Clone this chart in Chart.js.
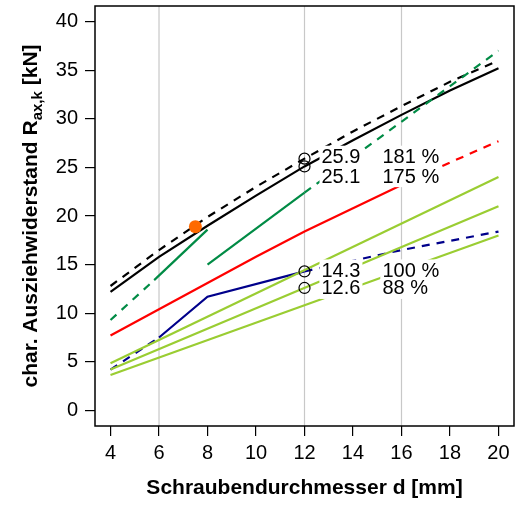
<!DOCTYPE html>
<html>
<head>
<meta charset="utf-8">
<script src="https://cdn.jsdelivr.net/npm/chart.js@4.4.1/dist/chart.umd.min.js"></script>
<style>
    html, body { margin: 0; padding: 0; background: #fff; }
    #wrap { width: 517px; height: 507px; }
</style>
</head>
<body>
<div id="wrap"><canvas id="pullChart" width="517" height="507"></canvas></div>
<script>
        // Data
        const dAll = [4, 6, 8, 10, 12, 14, 16, 18, 20];
        const blackSolid = [12.2, 15.8, 19.0, 22.1, 25.1, 27.8, 30.4, 32.9, 35.2];
        const blackDashed = [12.8, 16.5, 19.9, 23.0, 25.9, 28.7, 31.3, 33.8, 36.0];

        const redD = [4, 6, 8, 10, 12, 14, 16];
        const redSolid = [7.7, 10.4, 13.1, 15.8, 18.4, 20.8, 23.2];
        const redDashD = [16, 18, 20];
        const redDashed = [23.2, 25.5, 27.7];

        const greenDash1D = [4, 5.8];
        const greenDash1 = [9.3, 13.4];
        const greenSolid1D = [5.8, 8];
        const greenSolid1 = [13.4, 18.6];
        const greenSolid2D = [8, 12];
        const greenSolid2 = [15.0, 22.4];
        const greenDash2D = [12, 20];
        const greenDash2 = [22.4, 37.0];

        const blueDash1D = [4, 6];
        const blueDash1 = [4.2, 7.5];
        const blueSolidD = [6, 8, 12];
        const blueSolid = [7.5, 11.7, 14.3];
        const blueDash2D = [12, 16, 20];
        const blueDash2 = [14.3, 16.5, 18.4];

        const lightD = [4, 20];
        const lightA = [4.85, 24.0];
        const lightB = [4.2, 21.0];
        const lightC = [3.65, 18.0];

        const testD = [7.5];
        const testValue = [18.9];

        const markD = [12, 12, 12, 12];
        const markValue = [25.9, 25.1, 14.3, 12.6];
        const labelValue = ['25.9', '25.1', '14.3', '12.6'];
        const labelPct = ['181 %', '175 %', '100 %', '88 %'];
        const labelY = [26.1, 24.1, 14.4, 12.6];

        const xTicks = [4, 6, 8, 10, 12, 14, 16, 18, 20];
        const yTicks = [0, 5, 10, 15, 20, 25, 30, 35, 40];
        const gridX = [6, 12, 16];
        const xMin = 3.36, xMax = 20.64;
        const yMin = -1.6, yMax = 41.6;

        const FONT = '"Liberation Sans", Arial, sans-serif';
        Chart.defaults.font.family = FONT;
        Chart.defaults.color = '#000';

        const pts = (xs, ys) => xs.map((x, i) => ({ x: x, y: ys[i] }));

        function lineSet(xs, ys, color, dashed) {
            return {
                data: pts(xs, ys),
                showLine: true,
                borderColor: color,
                borderWidth: 2.2,
                borderDash: dashed ? [8, 7] : [],
                pointRadius: 0,
                fill: false,
                order: 10
            };
        }

        const datasets = [];
        gridX.forEach(g => {
            datasets.push({
                data: [{ x: g, y: yMin }, { x: g, y: yMax }],
                showLine: true,
                borderColor: '#c8c8c8',
                borderWidth: 1.2,
                pointRadius: 0,
                order: 100
            });
        });
        datasets.push(lineSet(lightD, lightA, '#9acd32', false));
        datasets.push(lineSet(lightD, lightB, '#9acd32', false));
        datasets.push(lineSet(lightD, lightC, '#9acd32', false));
        datasets.push(lineSet(blueDash1D, blueDash1, '#00008b', true));
        datasets.push(lineSet(blueSolidD, blueSolid, '#00008b', false));
        datasets.push(lineSet(blueDash2D, blueDash2, '#00008b', true));
        datasets.push(lineSet(redD, redSolid, '#ff0000', false));
        datasets.push(lineSet(redDashD, redDashed, '#ff0000', true));
        datasets.push(lineSet(greenDash1D, greenDash1, '#008b45', true));
        datasets.push(lineSet(greenSolid1D, greenSolid1, '#008b45', false));
        datasets.push(lineSet(greenSolid2D, greenSolid2, '#008b45', false));
        datasets.push(lineSet(greenDash2D, greenDash2, '#008b45', true));
        datasets.push(lineSet(dAll, blackDashed, '#000000', true));
        datasets.push(lineSet(dAll, blackSolid, '#000000', false));
        datasets.push({
            data: pts(markD, markValue),
            pointRadius: 5.5,
            pointBorderWidth: 1.2,
            pointBorderColor: '#000',
            pointBackgroundColor: 'rgba(0,0,0,0)',
            order: 2
        });
        datasets.push({
            data: pts(testD, testValue),
            pointRadius: 6.5,
            pointBorderWidth: 0,
            pointBackgroundColor: '#ff6a00',
            order: 1
        });

        // Box round the plot area
        const boxPlugin = {
            id: 'box',
            afterDraw(chart) {
                const { ctx, chartArea: a } = chart;
                ctx.save();
                ctx.strokeStyle = '#000';
                ctx.lineWidth = 1.5;
                ctx.strokeRect(a.left, a.top, a.right - a.left, a.bottom - a.top);
                ctx.restore();
            }
        };

        // Value labels with white background
        const labelPlugin = {
            id: 'labels',
            afterDatasetsDraw(chart) {
                const { ctx } = chart;
                const xs = chart.scales.x, ys = chart.scales.y;
                ctx.save();
                ctx.font = '20px ' + FONT;
                ctx.textBaseline = 'middle';
                ctx.textAlign = 'left';
                labelValue.forEach((txt, i) => {
                    const y = ys.getPixelForValue(labelY[i]);
                    const x0 = xs.getPixelForValue(markD[i]);
                    [[txt, x0 + 17], [labelPct[i], x0 + 78]].forEach(([t, x]) => {
                        const w = ctx.measureText(t).width;
                        ctx.fillStyle = '#fff';
                        ctx.fillRect(x - 2, y - 11, w + 4, 22);
                        ctx.fillStyle = '#000';
                        ctx.fillText(t, x, y + 1);
                    });
                });
                ctx.restore();
            }
        };

        // Y axis title with subscript
        const yTitlePlugin = {
            id: 'yTitle',
            afterDraw(chart) {
                const { ctx, chartArea: a } = chart;
                const big = 'bold 21px ' + FONT;
                const small = 'bold 15px ' + FONT;
                const parts = [
                    ['char. Ausziehwiderstand R', big, 0],
                    ['ax,k', small, 5],
                    [' [kN]', big, 0]
                ];
                ctx.save();
                let total = 0;
                parts.forEach(p => { ctx.font = p[1]; total += ctx.measureText(p[0]).width; });
                ctx.translate(29.5, (a.top + a.bottom) / 2);
                ctx.rotate(-Math.PI / 2);
                ctx.fillStyle = '#000';
                ctx.textAlign = 'left';
                ctx.textBaseline = 'alphabetic';
                let x = -total / 2;
                parts.forEach(p => {
                    ctx.font = p[1];
                    ctx.fillText(p[0], x, 7.5 + p[2]);
                    x += ctx.measureText(p[0]).width;
                });
                ctx.restore();
            }
        };

        const ctx = document.getElementById('pullChart').getContext('2d');
        new Chart(ctx, {
            type: 'scatter',
            data: { datasets: datasets },
            plugins: [labelPlugin, boxPlugin, yTitlePlugin],
            options: {
                responsive: false,
                animation: false,
                events: [],
                layout: { autoPadding: false, padding: { top: 6, right: 3, left: 0, bottom: 0 } },
                plugins: { legend: { display: false }, tooltip: { enabled: false } },
                scales: {
                    x: {
                        type: 'linear',
                        min: xMin,
                        max: xMax,
                        afterBuildTicks: s => { s.ticks = xTicks.map(v => ({ value: v })); },
                        afterFit: s => { s.height = 81; s.paddingLeft = 0; s.paddingRight = 0; },
                        border: { display: false },
                        grid: { drawOnChartArea: false, drawTicks: true, tickLength: 10, color: '#000', lineWidth: 1.2 },
                        ticks: { font: { size: 20 }, padding: 5, maxRotation: 0, autoSkip: false, color: '#000' },
                        title: {
                            display: true,
                            text: 'Schraubendurchmesser d [mm]',
                            font: { size: 21, weight: 'bold' },
                            color: '#000',
                            padding: { top: 0, bottom: 6 }
                        }
                    },
                    y: {
                        type: 'linear',
                        min: yMin,
                        max: yMax,
                        afterBuildTicks: s => { s.ticks = yTicks.map(v => ({ value: v })); },
                        afterFit: s => { s.width = 95; s.paddingTop = 0; s.paddingBottom = 0; },
                        border: { display: false },
                        grid: { drawOnChartArea: false, drawTicks: true, tickLength: 10, color: '#000', lineWidth: 1.2 },
                        ticks: { font: { size: 20 }, padding: 7, autoSkip: false, color: '#000' }
                    }
                }
            }
        });
</script>
</body>
</html>
